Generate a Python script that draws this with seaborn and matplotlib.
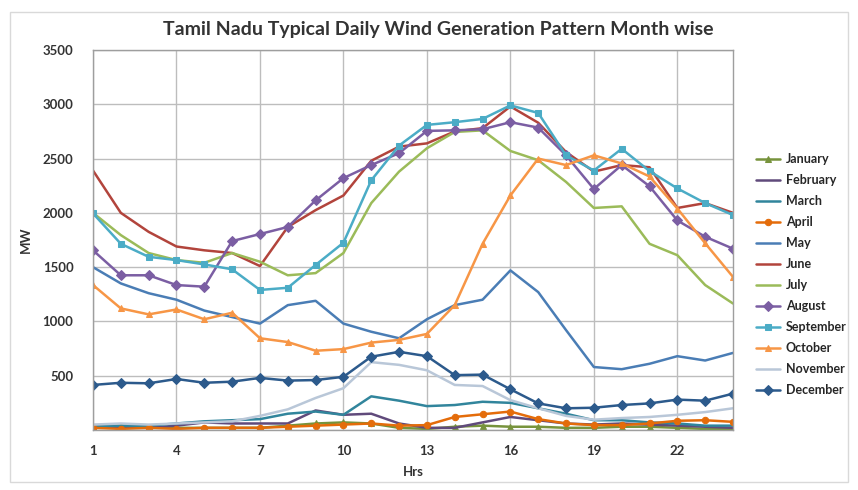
import numpy as np
import pandas as pd
import matplotlib
matplotlib.use("Agg")
import matplotlib.pyplot as plt
from matplotlib.patches import Rectangle
import seaborn as sns

hours = list(range(1, 25))
months = ["January", "February", "March", "April", "May", "June", "July",
          "August", "September", "October", "November", "December"]

january = [30, 40, 30, 20, 20, 20, 20, 40, 60, 70, 60, 20,
           10, 30, 40, 30, 30, 20, 20, 30, 30, 20, 10, 10]
february = [30, 20, 20, 40, 70, 60, 60, 60, 180, 140, 150, 60,
            20, 20, 70, 120, 90, 60, 50, 60, 50, 40, 30, 20]
march = [30, 40, 40, 60, 80, 90, 100, 150, 170, 140, 310, 270,
         220, 230, 260, 250, 200, 150, 90, 90, 70, 60, 40, 40]
april = [20, 10, 20, 10, 20, 20, 20, 30, 40, 50, 60, 40,
         45, 120, 145, 170, 100, 60, 45, 45, 60, 85, 90, 75]
may = [1500, 1350, 1260, 1200, 1100, 1040, 980, 1150, 1190, 980, 905, 845,
       1020, 1150, 1200, 1470, 1270, 920, 580, 560, 610, 680, 640, 710]
june = [2390, 2000, 1825, 1690, 1655, 1630, 1510, 1870, 2025, 2160, 2480, 2610,
        2640, 2750, 2780, 2980, 2830, 2560, 2380, 2440, 2420, 2045, 2090, 2000]
july = [2000, 1795, 1630, 1565, 1540, 1630, 1550, 1425, 1445, 1630, 2090, 2380,
        2595, 2745, 2760, 2570, 2485, 2285, 2045, 2060, 1715, 1610, 1335, 1165]
august = [1655, 1425, 1425, 1335, 1320, 1740, 1805, 1870, 2115, 2320, 2440, 2550,
          2755, 2760, 2770, 2835, 2785, 2530, 2220, 2440, 2245, 1930, 1780, 1670]
september = [1995, 1715, 1595, 1565, 1525, 1480, 1290, 1310, 1520, 1725, 2300, 2620,
             2810, 2835, 2865, 2990, 2920, 2530, 2390, 2590, 2385, 2225, 2090, 1980]
october = [1335, 1120, 1065, 1110, 1020, 1080, 845, 810, 730, 745, 805, 830,
           885, 1150, 1715, 2160, 2500, 2440, 2530, 2455, 2335, 2040, 1720, 1410]
november = [50, 60, 50, 60, 70, 80, 130, 190, 295, 385, 625, 600,
            550, 415, 405, 275, 200, 130, 95, 110, 120, 140, 165, 200]
december = [415, 435, 430, 470, 435, 445, 480, 455, 460, 490, 675, 720,
            680, 505, 510, 375, 245, 200, 205, 230, 245, 280, 270, 335]

series_values = [january, february, march, april, may, june, july,
                 august, september, october, november, december]

colors = ["#77933C", "#604A7B", "#31859C", "#E46C0A", "#4A7DB5", "#B2443C",
          "#9BBB59", "#7B5EA3", "#4BACC6", "#F79646", "#B9C7D8", "#2C5A8C"]
markers = ["^", "", "", "o", "", "", "", "D", "s", "^", "", "D"]

x_tick_values = [1, 4, 7, 10, 13, 16, 19, 22]
x_tick_labels = ["1", "4", "7", "10", "13", "16", "19", "22"]
y_tick_values = [0, 500, 1000, 1500, 2000, 2500, 3000, 3500]
y_tick_labels = ["", "500", "1000", "1500", "2000", "2500", "3000", "3500"]

title = "Tamil Nadu Typical Daily Wind Generation Pattern Month wise"

sns.set_theme(style="white")
plt.rcParams["font.family"] = ["Lato", "DejaVu Sans"]

fig = plt.figure(figsize=(8.58, 4.9), dpi=100)
fig.patches.append(Rectangle((0.012, 0.016), 0.976, 0.96, transform=fig.transFigure,
                             fill=False, edgecolor="#D9D9D9", linewidth=1.0))
ax = fig.add_axes([93 / 858, 1 - 430 / 490, 640 / 858, 380 / 490])

for name, vals, col, mk in zip(months, series_values, colors, markers):
    df = pd.DataFrame({"Hour": hours, "MW": vals})
    sns.lineplot(data=df, x="Hour", y="MW", ax=ax, color=col, linewidth=1.8,
                 marker=mk if mk else None, markersize=4.6,
                 markeredgecolor=col, label=name)

ax.set_xlim(1, 24)
ax.set_ylim(0, 3500)
ax.set_xticks(x_tick_values)
ax.set_xticklabels(x_tick_labels, fontsize=9.5, fontweight="bold", color="#333333")
ax.set_yticks(y_tick_values)
ax.set_yticklabels(y_tick_labels, fontsize=9.5, fontweight="bold", color="#333333")
ax.tick_params(axis="x", length=0, pad=11)
ax.tick_params(axis="y", length=0, pad=14)
ax.grid(True, color="#BDBDBD", linewidth=1.0)
for s in ax.spines.values():
    s.set_color("#9E9E9E")
    s.set_linewidth(1.0)

ax.set_xlabel("Hrs", fontsize=9.5, fontweight="bold", color="#333333", labelpad=6)
ax.set_ylabel("MW", fontsize=9.5, fontweight="bold", color="#333333", labelpad=8)

fig.text(438 / 858, 1 - 30 / 490, title, ha="center", va="center",
         fontsize=14, fontweight="bold", color="#333333")

ax.legend(loc="upper left", bbox_to_anchor=(756 / 858, 1 - 153 / 490),
          bbox_transform=fig.transFigure, frameon=False,
          handlelength=1.9, handletextpad=0.5, labelspacing=0.72,
          borderaxespad=0, borderpad=0, prop={"weight": "bold", "size": 9})

fig.savefig("out.png", dpi=100, facecolor="white")
